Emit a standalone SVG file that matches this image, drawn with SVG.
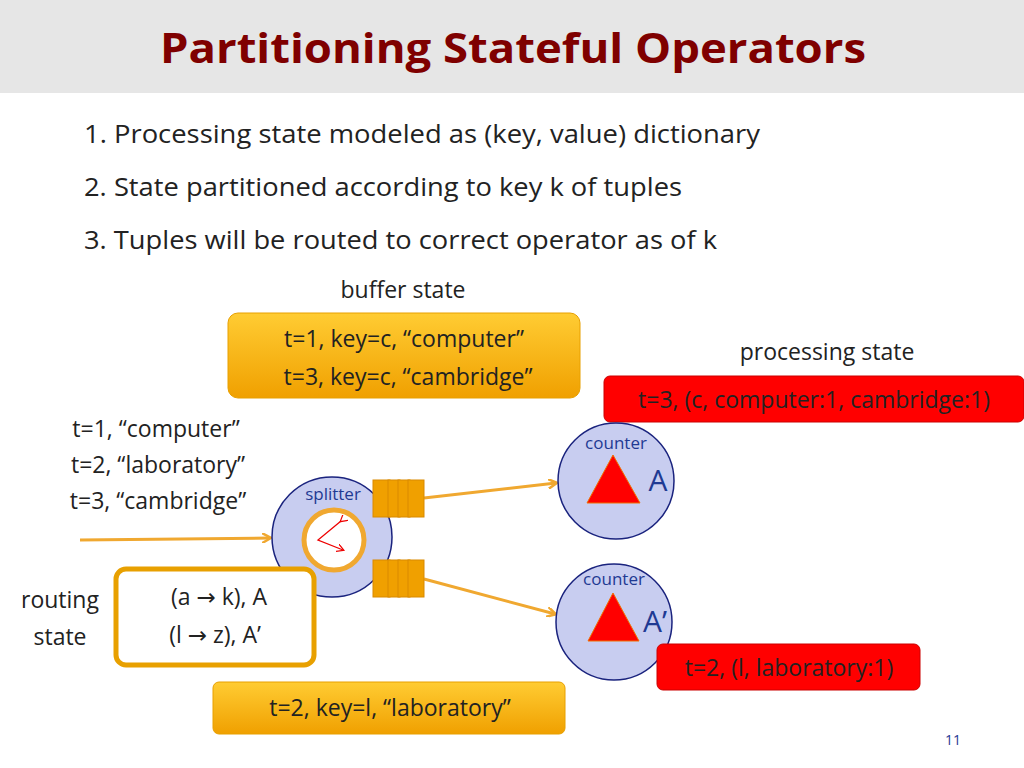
<svg xmlns="http://www.w3.org/2000/svg" width="1024" height="768" viewBox="0 0 1024 768">
<style>
text{font-family:"Open Sans","DejaVu Sans",sans-serif;fill:#222}
.li{font-size:25px}
.m{font-size:23px;text-anchor:middle}
.s{font-size:17px;fill:#1f3a93;text-anchor:middle}
.c{fill:#c8cdf0;stroke:#1a237e;stroke-width:1.5}
.q{fill:#f0a000;stroke:#d98a00;stroke-width:1}
.con{stroke:#f0a830;stroke-width:3;fill:none}
</style>
<defs>
<linearGradient id="og" x1="0" y1="0" x2="0" y2="1"><stop offset="0" stop-color="#ffcc33"/><stop offset="1" stop-color="#f0a000"/></linearGradient>
<radialGradient id="cg" cx="0.5" cy="0.5" r="0.5"><stop offset="0" stop-color="#eef0fb"/><stop offset="1" stop-color="#c4c9ee"/></radialGradient>
<marker id="ar" markerWidth="10" markerHeight="10" refX="8" refY="5" orient="auto" markerUnits="userSpaceOnUse"><path d="M0,0 L9,5 L0,10" fill="none" stroke="#f0a830" stroke-width="2.5"/></marker>
<marker id="rr" markerWidth="8" markerHeight="8" refX="6" refY="4" orient="auto" markerUnits="userSpaceOnUse"><path d="M0,0 L7,4 L0,8" fill="none" stroke="#e00" stroke-width="1.2"/></marker>
</defs>
<rect x="0" y="0" width="1024" height="93" fill="#e6e6e6"/>
<text x="160" y="63" font-size="42" font-weight="bold" textLength="706" lengthAdjust="spacingAndGlyphs" style="fill:#7f0000">Partitioning Stateful Operators</text>
<text class="li" x="84" y="143" textLength="676" lengthAdjust="spacingAndGlyphs">1. Processing state modeled as (key, value) dictionary</text>
<text class="li" x="84" y="196" textLength="598" lengthAdjust="spacingAndGlyphs">2. State partitioned according to key k of tuples</text>
<text class="li" x="84" y="249" textLength="633" lengthAdjust="spacingAndGlyphs">3. Tuples will be routed to correct operator as of k</text>
<text class="m" x="403" y="298">buffer state</text>
<text class="m" x="827" y="360">processing state</text>
<g id="connectors">
<line class="con" x1="80" y1="540" x2="270" y2="538" marker-end="url(#ar)"/>
<line class="con" x1="424" y1="498" x2="556" y2="483" marker-end="url(#ar)"/>
<line class="con" x1="424" y1="579" x2="555" y2="614" marker-end="url(#ar)"/>
</g>
<g id="buffer"><rect x="228" y="313" width="352" height="85" rx="10" fill="url(#og)" stroke="#e8a000"/>
<text class="m" x="404" y="347">t=1, key=c, “computer”</text>
<text class="m" x="408" y="385">t=3, key=c, “cambridge”</text></g>
<g id="proc"><rect x="604" y="376" width="420" height="46" rx="6" fill="#f00" stroke="#c00"/>
<text class="m" x="814" y="408">t=3, (c, computer:1, cambridge:1)</text></g>
<g id="inputs">
<text class="m" x="156" y="437">t=1, “computer”</text>
<text class="m" x="158" y="473">t=2, “laboratory”</text>
<text class="m" x="158" y="509">t=3, “cambridge”</text></g>
<g id="splitter"><circle class="c" cx="332" cy="537" r="60" fill="url(#cg)"/>
<text class="s" x="333" y="500">splitter</text>
<circle cx="334" cy="540" r="30" fill="#fff" stroke="#f0a830" stroke-width="5"/>
<polyline points="341,521 318,540 343,550" fill="none" stroke="#e00" stroke-width="1.3" marker-start="url(#rr)" marker-end="url(#rr)"/></g>
<g id="q1"><rect class="q" x="373" y="480" width="17" height="37"/><rect class="q" x="388" y="480" width="12" height="37"/><rect class="q" x="398" y="480" width="12" height="37"/><rect class="q" x="408" y="480" width="16" height="37"/></g>
<g id="q2"><rect class="q" x="373" y="560" width="17" height="37"/><rect class="q" x="388" y="560" width="12" height="37"/><rect class="q" x="398" y="560" width="12" height="37"/><rect class="q" x="408" y="560" width="16" height="37"/></g>
<g id="counterA"><circle class="c" cx="616" cy="481" r="58" fill="url(#cg)"/>
<text class="s" x="616" y="449">counter</text>
<polygon points="587,503 640,503 613,455" fill="#f00" stroke="#f07000"/>
<text x="658" y="491" font-size="30" text-anchor="middle" style="fill:#1f3a93">A</text></g>
<g id="counterA2"><circle class="c" cx="614" cy="622" r="58" fill="url(#cg)"/>
<text class="s" x="614" y="585">counter</text>
<polygon points="588,641 639,641 613,593" fill="#f00" stroke="#f07000"/>
<text x="643" y="632" font-size="30" style="fill:#1f3a93">A’</text></g>
<g id="routing"><rect x="116" y="569" width="198" height="96" rx="10" fill="#fff" stroke="#e8a000" stroke-width="5"/>
<text class="m" x="219" y="605">(a → k), A</text>
<text class="m" x="215" y="643">(l → z), A’</text></g>
<text class="m" x="60" y="608">routing</text>
<text class="m" x="60" y="645">state</text>
<g id="proc2"><rect x="657" y="644" width="263" height="46" rx="6" fill="#f00" stroke="#c00"/>
<text class="m" x="789" y="676">t=2, (l, laboratory:1)</text></g>
<g id="buf2"><rect x="213" y="682" width="352" height="52" rx="6" fill="url(#og)" stroke="#e8a000"/>
<text class="m" x="390" y="716">t=2, key=l, “laboratory”</text></g>
<text x="953" y="745" font-size="14" text-anchor="middle" style="fill:#1f3a93">11</text>
</svg>
